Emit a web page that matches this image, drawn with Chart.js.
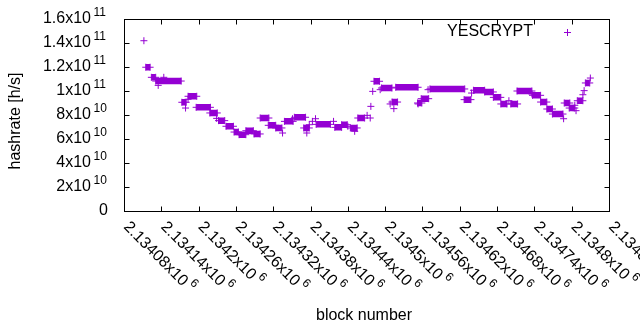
<!DOCTYPE html>
<html>
<head>
<meta charset="utf-8">
<script src="https://cdn.jsdelivr.net/npm/chart.js@4"></script>
<style>
  html, body { margin: 0; padding: 0; background: #fff; }
</style>
</head>
<body>
<canvas id="chart" width="640" height="330"></canvas>
<script>
// flat stretches of the estimate: first block, last block, hashrate
const runStart = [2134115, 2134124, 2134131, 2134173, 2134183, 2134196, 2134218, 2134232, 2134244, 2134257,
  2134265, 2134276, 2134289, 2134299, 2134312, 2134324, 2134338, 2134354, 2134369, 2134389,
  2134419, 2134430, 2134444, 2134456, 2134482, 2134494, 2134511, 2134517, 2134552, 2134558,
  2134572, 2134627, 2134642, 2134660, 2134674, 2134686, 2134702, 2134712, 2134737, 2134750,
  2134760, 2134769, 2134788, 2134796, 2134809, 2134822];
const runEnd = [2134122, 2134131, 2134172, 2134180, 2134197, 2134219, 2134230, 2134242, 2134256, 2134264,
  2134276, 2134288, 2134299, 2134313, 2134324, 2134334, 2134352, 2134372, 2134378, 2134412,
  2134430, 2134439, 2134455, 2134467, 2134491, 2134511, 2134520, 2134553, 2134559, 2134570,
  2134628, 2134638, 2134660, 2134674, 2134686, 2134696, 2134713, 2134736, 2134750, 2134760,
  2134769, 2134786, 2134797, 2134805, 2134818, 2134829];
const runHash = [1.198e11, 1.114e11, 1.083e11, 9.06e10, 9.56e10, 8.64e10, 8.17e10, 7.53e10, 7.06e10, 6.58e10,
  6.36e10, 6.69e10, 6.42e10, 7.75e10, 7.14e10, 6.92e10, 7.47e10, 7.81e10, 6.92e10, 7.22e10,
  6.97e10, 7.19e10, 6.92e10, 7.75e10, 1.081e11, 1.025e11, 9.08e10, 1.031e11, 9.0e10, 9.36e10,
  1.017e11, 9.28e10, 1.006e11, 9.92e10, 9.47e10, 8.92e10, 8.92e10, 1.0e11, 9.64e10, 9.08e10,
  8.5e10, 8.08e10, 9.0e10, 8.58e10, 9.19e10, 1.067e11];

// single blocks off the flat stretches
const loneBlock = [2134112, 2134135, 2134144, 2134179, 2134183, 2134229, 2134335, 2134351, 2134374, 2134378,
  2134383, 2134388, 2134417, 2134440, 2134451, 2134471, 2134476, 2134477, 2134480, 2134492,
  2134508, 2134514, 2134553, 2134569, 2134639, 2134699, 2134736, 2134787, 2134805, 2134807,
  2134818, 2134820, 2134830];
const loneHash = [1.419e11, 1.047e11, 1.114e11, 8.58e10, 9.31e10, 7.72e10, 6.5e10, 7.69e10, 6.5e10, 7.19e10,
  7.47e10, 7.69e10, 7.47e10, 7.06e10, 6.64e10, 7.97e10, 7.75e10, 8.72e10, 9.97e10, 1.011e11,
  8.92e10, 8.53e10, 8.92e10, 1.011e11, 9.83e10, 9.19e10, 9.75e10, 7.69e10, 8.81e10, 8.36e10,
  9.69e10, 1.003e11, 1.108e11];

const xTicks = [2134080, 2134140, 2134200, 2134260, 2134320, 2134380, 2134440, 2134500,
  2134560, 2134620, 2134680, 2134740, 2134800, 2134860];
const xTickText = ['2.13408x10', '2.13414x10', '2.1342x10', '2.13426x10', '2.13432x10', '2.13438x10', '2.13444x10',
  '2.1345x10', '2.13456x10', '2.13462x10', '2.13468x10', '2.13474x10', '2.1348x10', '2.13486x10'];
const xTickExp = '6';
const yTicks = [0, 2e10, 4e10, 6e10, 8e10, 1e11, 1.2e11, 1.4e11, 1.6e11];
const yTickText = ['0', '2x10', '4x10', '6x10', '8x10', '1x10', '1.2x10', '1.4x10', '1.6x10'];
const yTickExp = ['', '10', '10', '10', '10', '11', '11', '11', '11'];

const seriesName = 'YESCRYPT';
const purple = '#9400d3';
const font = '"Liberation Sans", Arial, sans-serif';

const runPoints = [];
const plusPoints = [];
runStart.forEach((s, i) => {
  runPoints.push({ x: s, y: runHash[i] }, { x: runEnd[i], y: runHash[i] }, { x: runEnd[i], y: null });
  plusPoints.push({ x: s, y: runHash[i] }, { x: runEnd[i], y: runHash[i] });
});
loneBlock.forEach((b, i) => plusPoints.push({ x: b, y: loneHash[i] }));

function plus(ctx, x, y) {
  ctx.beginPath();
  ctx.moveTo(x - 3.5, y); ctx.lineTo(x + 3.5, y);
  ctx.moveTo(x, y - 3.5); ctx.lineTo(x, y + 3.5);
  ctx.stroke();
}

const frame = {
  id: 'frame',
  afterDraw(chart) {
    const { ctx, chartArea: a, scales } = chart;
    const L = a.left + 0.5, R = a.right + 0.5, T = a.top + 0.5, B = a.bottom + 0.5;
    ctx.save();
    ctx.strokeStyle = '#000';
    ctx.lineWidth = 1;
    ctx.strokeRect(L, T, R - L, B - T);

    ctx.beginPath();
    xTicks.forEach(v => {
      const px = Math.round(scales.x.getPixelForValue(v)) + 0.5;
      ctx.moveTo(px, B); ctx.lineTo(px, B - 5);
      ctx.moveTo(px, T); ctx.lineTo(px, T + 5);
    });
    yTicks.forEach(v => {
      const py = Math.round(scales.y.getPixelForValue(v)) + 0.5;
      ctx.moveTo(L, py); ctx.lineTo(L + 5, py);
      ctx.moveTo(R, py); ctx.lineTo(R - 5, py);
    });
    ctx.stroke();

    ctx.fillStyle = '#000';
    // y tick labels
    yTicks.forEach((v, i) => {
      const py = scales.y.getPixelForValue(v);
      ctx.textBaseline = 'middle';
      ctx.font = '16px ' + font;
      if (!yTickExp[i]) {
        ctx.textAlign = 'right';
        ctx.fillText(yTickText[i], 108, py);
        return;
      }
      ctx.textAlign = 'right';
      ctx.fillText(yTickText[i], 91, py);
      ctx.font = '12px ' + font;
      ctx.textAlign = 'left';
      ctx.fillText(yTickExp[i], 93.5, py - 6.5);
    });

    // x tick labels, turned down to the right
    xTicks.forEach((v, i) => {
      const px = scales.x.getPixelForValue(v);
      ctx.save();
      ctx.translate(px + 2, B + 13);
      ctx.rotate(Math.PI / 4);
      ctx.textAlign = 'left';
      ctx.textBaseline = 'middle';
      ctx.font = '16px ' + font;
      ctx.fillText(xTickText[i], 0, 0);
      const w = ctx.measureText(xTickText[i]).width;
      ctx.font = '12px ' + font;
      ctx.fillText(xTickExp, w + 3, -6.5);
      ctx.restore();
    });

    // axis titles
    ctx.font = '16px ' + font;
    ctx.textAlign = 'center';
    ctx.textBaseline = 'middle';
    ctx.fillText('block number', 364, 316);
    ctx.save();
    ctx.translate(16, 121);
    ctx.rotate(-Math.PI / 2);
    ctx.fillText('hashrate [h/s]', 0, 0);
    ctx.restore();

    // key
    ctx.textAlign = 'right';
    ctx.fillText(seriesName, 533, 32);
    ctx.strokeStyle = purple;
    plus(ctx, 567.5, 32.5);
    ctx.restore();
  }
};

new Chart(document.getElementById('chart'), {
  type: 'scatter',
  data: {
    datasets: [
      {
        label: seriesName,
        data: runPoints,
        showLine: true,
        spanGaps: false,
        borderColor: purple,
        borderWidth: 6.5,
        borderCapStyle: 'butt',
        pointRadius: 0,
        pointHoverRadius: 0
      },
      {
        label: seriesName,
        data: plusPoints,
        pointStyle: 'cross',
        pointRadius: 3.5,
        pointBorderWidth: 1,
        borderColor: purple,
        backgroundColor: purple
      }
    ]
  },
  options: {
    responsive: false,
    animation: false,
    events: [],
    layout: { padding: { left: 124, right: 31, top: 19, bottom: 119 } },
    plugins: { legend: { display: false }, tooltip: { enabled: false } },
    scales: {
      x: { type: 'linear', display: false, min: 2134080, max: 2134860 },
      y: { type: 'linear', display: false, min: 0, max: 1.6e11 }
    }
  },
  plugins: [frame]
});
</script>
</body>
</html>
